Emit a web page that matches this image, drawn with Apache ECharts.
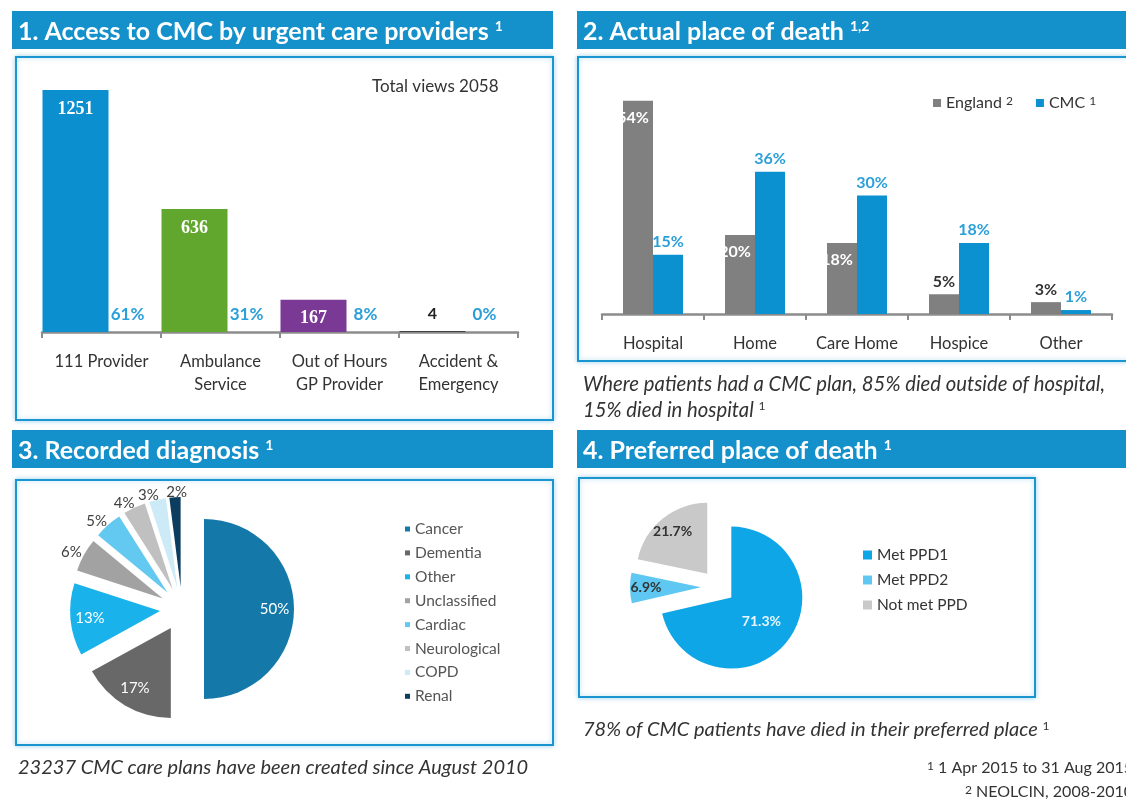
<!DOCTYPE html>
<html>
<head>
<meta charset="utf-8">
<script src="https://cdn.jsdelivr.net/npm/echarts@6/dist/echarts.min.js"></script>
<style>
  html, body { margin: 0; padding: 0; background: #fff; }
  #chart { width: 1126px; height: 805px; }
</style>
</head>
<body>
<div id="chart"></div>
<script>
// 1. access to CMC by urgent care providers
const providers = ['111 Provider', 'Ambulance\nService', 'Out of Hours\nGP Provider', 'Accident &\nEmergency'];
const providerViews = [1251, 636, 167, 4];
const providerShare = [61, 31, 8, 0];

// 2. actual place of death (%)
const places = ['Hospital', 'Home', 'Care Home', 'Hospice', 'Other'];
const englandDeaths = [54, 20, 18, 5, 3];
const cmcDeaths = [15, 36, 30, 18, 1];

// 3. recorded diagnosis (%)
const diagnoses = ['Cancer', 'Dementia', 'Other', 'Unclassified', 'Cardiac', 'Neurological', 'COPD', 'Renal'];
const diagnosisShare = [50, 17, 13, 6, 5, 4, 3, 2];

// 4. preferred place of death (%)
const ppdGroups = ['Met PPD1', 'Met PPD2', 'Not met PPD'];
const ppdShare = [71.3, 6.9, 21.7];

const providerColors = ['#0b8fcf', '#62a72d', '#7b3996', '#222222'];
const diagnosisColors = ['#1479a9', '#686868', '#1ab2ea', '#a2a2a2', '#64c9f0', '#c0c0c0', '#cdeaf7', '#0c3c5e'];
const ppdColors = ['#0ea6e6', '#5ec8f2', '#c9c9c9'];
const BLUE = '#1490cb';
const FONT = 'Lato, "Open Sans", sans-serif';

// exploded pies, like the excel original
const pie3 = { center: [182, 609], r: 90, explode: 22 };
const pie4 = { center: [718, 587], r: 71, explode: 17 };

const chart = echarts.init(document.getElementById('chart'));

const sup = { s: { fontSize: 12, verticalAlign: 'top', fontFamily: FONT } };

function header(x, y, w, txt) {
    return [
        { type: 'rect', z: -5, shape: { x: x, y: y, width: w, height: 38 }, style: { fill: BLUE } },
        {
            type: 'text', z: 50, x: x + 6, y: y + 21,
            style: {
                text: txt, fill: '#fff', fontSize: 25, fontWeight: 'bold', fontFamily: FONT,
                textVerticalAlign: 'middle', verticalAlign: 'middle',
                rich: { s: { fontSize: 14, fontWeight: 'bold', fill: '#fff', verticalAlign: 'top', fontFamily: FONT } }
            }
        }
    ];
}

function box(x, y, w, h) {
    return {
        type: 'rect', z: -10, shape: { x: x, y: y, width: w, height: h },
        style: { fill: '#fff', stroke: '#1a95cf', lineWidth: 2, shadowBlur: 5, shadowColor: 'rgba(26,149,207,0.35)' }
    };
}

function caption(x, y, txt, opts) {
    return {
        type: 'text', z: 50, x: x, y: y,
        style: Object.assign({
            text: txt, fill: '#333', fontSize: 20, fontStyle: 'italic', fontFamily: FONT,
            textVerticalAlign: 'middle', verticalAlign: 'middle', rich: sup
        }, opts || {})
    };
}

const totalViews = providerViews.reduce((a, b) => a + b, 0);

const graphic = [].concat(
    header(12, 11, 541, '1. Access to CMC by urgent care providers {s|1}'),
    header(577, 11, 560, '2. Actual place of death {s|1,2}'),
    header(12, 430, 541, '3. Recorded diagnosis {s|1}'),
    header(577, 430, 560, '4. Preferred place of death {s|1}'),
    [
        box(16, 57, 537, 363),
        box(578, 57, 560, 304),
        box(16, 480, 537, 265),
        box(579, 478, 456, 219),
        caption(372, 87, 'Total views ' + totalViews, { fontStyle: 'normal', fontSize: 17 }),
        caption(583, 384, 'Where patients had a CMC plan, 85% died outside of hospital,', { fontSize: 20.3 }),
        caption(583, 410, '15% died in hospital {s|1}', { fontSize: 20.3 }),
        caption(18, 768, '23237 CMC care plans have been created since August 2010'),
        caption(583, 730, '78% of CMC patients have died in their preferred place {s|1}'),
        caption(1133, 768, '{s|1} 1 Apr 2015 to 31 Aug 2015', { fontStyle: 'normal', fontSize: 16, textAlign: 'right', align: 'right' }),
        caption(1133, 792, '{s|2} NEOLCIN, 2008-2010', { fontStyle: 'normal', fontSize: 16, textAlign: 'right', align: 'right' })
    ]
);

const axisGrey = '#8c8c8c';
function catAxis(gridIndex, data, margin, lineHeight) {
    return {
        type: 'category', gridIndex: gridIndex, data: data,
        axisLine: { lineStyle: { color: axisGrey, width: 2.5 } },
        axisTick: { show: true, length: 6, lineStyle: { color: axisGrey, width: 2 } },
        axisLabel: { color: '#333', fontSize: 16.5, fontFamily: FONT, margin: margin, lineHeight: lineHeight, interval: 0 }
    };
}
function hiddenValueAxis(gridIndex, max) {
    return { type: 'value', gridIndex: gridIndex, min: 0, max: max, show: false, splitLine: { show: false } };
}

// exploded pie drawn with the library; labels only on the slices that pass labelled()
function explodedPie(name, pie, names, values, colors, labelled, labelColor, font) {
    return {
        name: name, type: 'pie', center: pie.center, radius: pie.r,
        selectedMode: 'multiple', selectedOffset: pie.explode,
        clockwise: true, startAngle: 90, avoidLabelOverlap: false,
        data: names.map((n, i) => ({
            name: n, value: values[i], selected: true,
            itemStyle: { color: colors[i] },
            label: { show: labelled(i), color: labelColor }
        })),
        label: Object.assign({ position: 'inside', formatter: '{c}%', fontFamily: FONT }, font),
        labelLine: { show: false },
        labelLayout: { hideOverlap: false },
        emphasis: { scale: false }
    };
}

// invisible ring over a pie, only carries labels further out along each slice
function labelRing(pie, names, values, ring, labelled, labelColor, font, itemLabel) {
    return {
        name: 'labels', type: 'pie', center: pie.center, radius: ring,
        silent: true, z: 5,
        selectedMode: 'multiple', selectedOffset: pie.explode,
        clockwise: true, startAngle: 90, avoidLabelOverlap: false,
        itemStyle: { color: 'rgba(0,0,0,0)' },
        data: names.map((n, i) => ({
            name: n, value: values[i], selected: true,
            label: Object.assign({ show: labelled(i), color: labelColor }, itemLabel ? itemLabel(i) : {})
        })),
        label: Object.assign({ position: 'inside', formatter: '{c}%', fontFamily: FONT }, font),
        labelLine: { show: false },
        labelLayout: { hideOverlap: false },
        emphasis: { disabled: true }
    };
}

const option = {
    animation: false,
    textStyle: { fontFamily: FONT },
    graphic: graphic,
    grid: [
        { left: 42, right: 1126 - 518, top: 90, bottom: 805 - 332 },
        { left: 602, right: 1126 - 1112, top: 77, bottom: 805 - 314 }
    ],
    xAxis: [
        catAxis(0, providers, 18, 23),
        catAxis(1, places, 21, 18)
    ],
    yAxis: [
        hiddenValueAxis(0, 'dataMax'),
        hiddenValueAxis(0, 1000000),
        hiddenValueAxis(1, 60)
    ],
    legend: [
        {
            data: ['England', 'CMC'], left: 928, top: 90, itemGap: 23,
            icon: 'rect', itemWidth: 8, itemHeight: 8,
            formatter: name => name + ' {s|' + (name === 'England' ? '2' : '1') + '}',
            textStyle: { color: '#333', fontSize: 16, fontFamily: FONT, rich: sup }
        },
        {
            data: diagnoses, orient: 'vertical', left: 400, top: 516, itemGap: 7.9,
            icon: 'rect', itemWidth: 5, itemHeight: 5,
            textStyle: { color: '#555', fontSize: 15.5, fontFamily: FONT }
        },
        {
            data: ppdGroups, orient: 'vertical', left: 858, top: 542, itemGap: 9,
            icon: 'rect', itemWidth: 9, itemHeight: 9,
            textStyle: { color: '#333', fontSize: 15.5, fontFamily: FONT }
        }
    ],
    series: [
        {
            name: 'views', type: 'bar', xAxisIndex: 0, yAxisIndex: 0,
            barWidth: 66, barGap: '0%',
            data: providerViews.map((v, i) => ({
                value: v,
                itemStyle: { color: providerColors[i] },
                label: v < 50 ? { position: 'top', distance: 9, color: '#222', fontFamily: FONT, fontSize: 16 } : {}
            })),
            label: {
                show: true, position: 'insideTop', distance: 10, color: '#fff',
                fontSize: 18, fontWeight: 'bold', fontFamily: '"Liberation Serif", serif'
            }
        },
        {
            name: 'share', type: 'bar', xAxisIndex: 0, yAxisIndex: 1,
            barWidth: 52,
            itemStyle: { color: 'rgba(0,0,0,0)' },
            data: providerShare,
            label: {
                show: true, position: 'top', distance: 9, offset: [-7, 0],
                formatter: '{c}%', color: '#2b9fd8', fontSize: 17, fontWeight: 'bold'
            }
        },
        {
            name: 'England', type: 'bar', xAxisIndex: 1, yAxisIndex: 2,
            barWidth: 30, barGap: '0%',
            itemStyle: { color: '#808080' },
            data: englandDeaths.map(v => ({
                value: v,
                label: v >= 10
                    ? { position: 'insideTop', distance: 9, offset: [-5, 0], color: '#fff' }
                    : { position: 'top', distance: 4, color: '#333' }
            })),
            label: { show: true, formatter: '{c}%', fontSize: 16, fontWeight: 'bold' }
        },
        {
            name: 'CMC', type: 'bar', xAxisIndex: 1, yAxisIndex: 2,
            barWidth: 30,
            itemStyle: { color: '#0b91d0' },
            data: cmcDeaths,
            label: {
                show: true, position: 'top', distance: 5, formatter: '{c}%',
                color: '#2b9fd8', fontSize: 16, fontWeight: 'bold'
            }
        },
        explodedPie('Recorded diagnosis', pie3, diagnoses, diagnosisShare, diagnosisColors,
            () => false, '#fff', { fontSize: 15 }),
        labelRing(pie3, diagnoses, diagnosisShare, [45, 90],
            i => i < 3, '#fff', { fontSize: 15 }),
        // small slices: labels just outside, nudged left like the original (except the last one)
        labelRing(pie3, diagnoses, diagnosisShare, [84, 100],
            i => i >= 3, '#404040', { fontSize: 15 },
            i => ({ padding: i < diagnoses.length - 1 ? [0, 16, 0, 0] : [0, 0, 0, 4] })),
        explodedPie('Preferred place of death', pie4, ppdGroups, ppdShare, ppdColors,
            i => i === 0, '#e8f6fd', { fontSize: 14, fontWeight: 'bold' }),
        labelRing(pie4, ppdGroups, ppdShare, [33, 71],
            i => i > 0, '#333', { fontSize: 14, fontWeight: 'bold' })
    ]
};

chart.setOption(option);
</script>
</body>
</html>
